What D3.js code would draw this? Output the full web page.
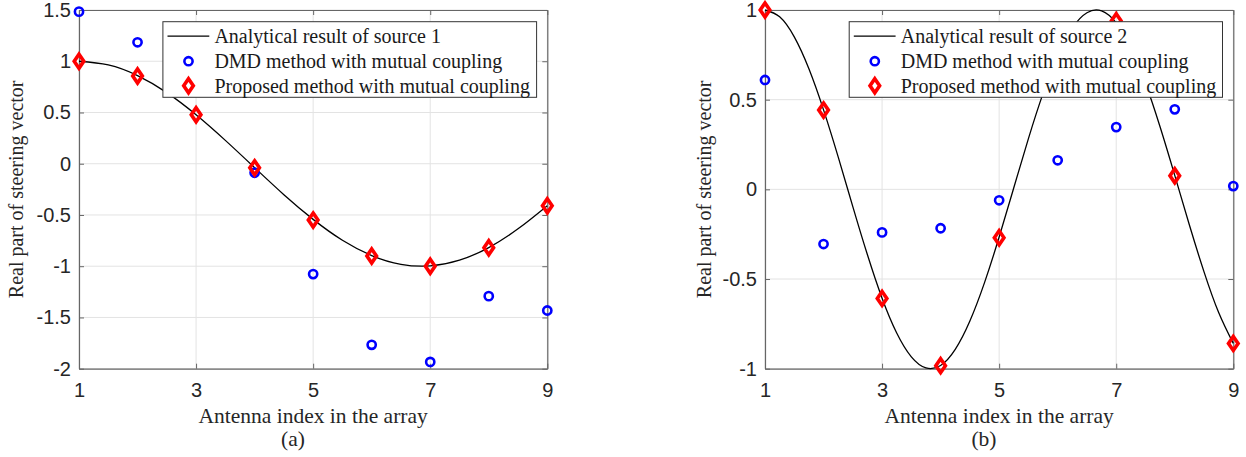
<!DOCTYPE html>
<html>
<head>
<meta charset="utf-8">
<script src="https://cdn.jsdelivr.net/npm/d3@7"></script>
<style>
  body { margin: 0; background: #fff; }
  .tick-label { font-family: "Liberation Sans", Arial, sans-serif; font-size: 20px; fill: #262626; }
  .label { font-family: "Liberation Serif", "Times New Roman", serif; font-size: 20px; fill: #262626; }
  .xlabel { font-family: "Liberation Serif", "Times New Roman", serif; font-size: 21.5px; fill: #262626; }
  .legend-text { font-family: "Liberation Serif", "Times New Roman", serif; font-size: 20px; fill: #1a1a1a; }
</style>
</head>
<body>
<div class="svg-container"></div>
<script>
var width = 1246;
var height = 457;

// antenna indices (x) shared by both panels
var antennaIdx = [1, 2, 3, 4, 5, 6, 7, 8, 9];
var xTicks = [1, 3, 5, 7, 9];

// panel (a) - source 1
var yTicksA = [-2, -1.5, -1, -0.5, 0, 0.5, 1, 1.5];
var curveXA = [1, 1.5, 2, 2.5, 3, 3.5, 4, 4.5, 5, 5.5, 6, 6.5, 7, 7.5, 8, 8.5, 9];
var curveYA = [1, 0.964, 0.860, 0.694, 0.478, 0.228, -0.038, -0.302, -0.543, -0.747, -0.896, -0.982, -0.997, -0.941, -0.818, -0.635, -0.409];
var dmdA = [1.484, 1.185, 0.95, -0.088, -1.077, -1.767, -1.934, -1.292, -1.432];
var proposedA = [1.0, 0.856, 0.478, -0.04, -0.55, -0.90, -1.0, -0.82, -0.41];
var legendA = ["Analytical result of source 1", "DMD method with mutual coupling", "Proposed method with mutual coupling"];

// panel (b) - source 2
var yTicksB = [-1, -0.5, 0, 0.5, 1];
var curveXB = [1, 1.25, 1.5, 1.75, 2, 2.25, 2.5, 2.75, 3, 3.25, 3.5, 3.75, 4, 4.25, 4.5, 4.75, 5,
               5.25, 5.5, 5.75, 6, 6.25, 6.5, 6.75, 7, 7.25, 7.5, 7.75, 8, 8.25, 8.5, 8.75, 9];
var curveYB = [1, 0.962, 0.850, 0.672, 0.443, 0.181, -0.096, -0.365, -0.607, -0.801, -0.934, -0.996, -0.982,
               -0.892, -0.734, -0.520, -0.266, 0.009, 0.283, 0.535, 0.746, 0.900, 0.985, 0.995, 0.928,
               0.790, 0.592, 0.348, 0.078, -0.199, -0.460, -0.687, -0.859];
var dmdB = [0.61, -0.305, -0.24, -0.217, -0.061, 0.162, 0.347, 0.446, 0.018];
var proposedB = [1.0, 0.442, -0.608, -0.983, -0.27, 0.746, 0.94, 0.076, -0.859];
var legendB = ["Analytical result of source 2", "DMD method with mutual coupling", "Proposed method with mutual coupling"];

var svg = d3.select(".svg-container")
              .append("svg")
              .attr("width", width)
              .attr("height", height);

var panelA = {
  left: 79, right: 547.3, top: 10, bottom: 368.7,
  yDomain: [-2, 1.5], yTicks: yTicksA,
  curveX: curveXA, curveY: curveYA, dmd: dmdA, proposed: proposedA,
  legendText: legendA, legendBox: [162.9, 21.7, 373.7, 75.6],
  yLabelX: 23, caption: "(a)", captionX: 293
};

var panelB = {
  left: 765, right: 1233.3, top: 10, bottom: 368.7,
  yDomain: [-1, 1], yTicks: yTicksB,
  curveX: curveXB, curveY: curveYB, dmd: dmdB, proposed: proposedB,
  legendText: legendB, legendBox: [849.2, 21.7, 373.3, 75.6],
  yLabelX: 711, caption: "(b)", captionX: 984
};

drawPanel(panelA);
drawPanel(panelB);

function drawPanel(p) {
  var g = svg.append("g");

  var x = d3.scaleLinear().domain([1, 9]).range([p.left, p.right]);
  var y = d3.scaleLinear().domain(p.yDomain).range([p.bottom, p.top]);

  // grid
  g.append("g").selectAll("line.gx")
    .data(xTicks).enter().append("line")
    .attr("x1", function(d) { return x(d); }).attr("x2", function(d) { return x(d); })
    .attr("y1", p.top).attr("y2", p.bottom)
    .attr("stroke", "#e3e3e3").attr("stroke-width", 1);
  g.append("g").selectAll("line.gy")
    .data(p.yTicks).enter().append("line")
    .attr("y1", function(d) { return y(d); }).attr("y2", function(d) { return y(d); })
    .attr("x1", p.left).attr("x2", p.right)
    .attr("stroke", "#e3e3e3").attr("stroke-width", 1);

  // axes (ticks inward, box on)
  var fmt = function(d) { return String(d); };
  g.append("g").attr("transform", "translate(0," + p.bottom + ")")
    .call(d3.axisBottom(x).tickValues(xTicks).tickSizeInner(-5).tickSizeOuter(0).tickPadding(14).tickFormat(fmt));
  g.append("g").attr("transform", "translate(0," + p.top + ")")
    .call(d3.axisTop(x).tickValues(xTicks).tickSizeInner(-5).tickSizeOuter(0).tickFormat(""));
  g.append("g").attr("transform", "translate(" + p.left + ",0)")
    .call(d3.axisLeft(y).tickValues(p.yTicks).tickSizeInner(-5).tickSizeOuter(0).tickPadding(8).tickFormat(fmt));
  g.append("g").attr("transform", "translate(" + p.right + ",0)")
    .call(d3.axisRight(y).tickValues(p.yTicks).tickSizeInner(-5).tickSizeOuter(0).tickFormat(""));

  g.selectAll(".domain").attr("stroke", "#666").attr("stroke-width", 1.2);
  g.selectAll(".tick line").attr("stroke", "#666");
  g.selectAll(".tick text").attr("class", "tick-label").attr("font-size", null).attr("font-family", null);

  // analytical curve
  var pts = p.curveX.map(function(d, i) { return [d, p.curveY[i]]; });
  var line = d3.line()
               .curve(d3.curveNatural)
               .x(function(d) { return x(d[0]); })
               .y(function(d) { return y(d[1]); });
  g.append("path")
    .datum(pts)
    .attr("fill", "none")
    .attr("stroke", "#000")
    .attr("stroke-width", 1.3)
    .attr("d", line);

  // DMD circles
  g.append("g").selectAll("circle")
    .data(p.dmd).enter().append("circle")
    .attr("cx", function(d, i) { return x(antennaIdx[i]); })
    .attr("cy", function(d) { return y(d); })
    .attr("r", 4.1)
    .attr("fill", "none")
    .attr("stroke", "#0000ff")
    .attr("stroke-width", 2.6);

  // proposed diamonds
  g.append("g").selectAll("path.dia")
    .data(p.proposed).enter().append("path")
    .attr("d", function(d, i) { return diamond(x(antennaIdx[i]), y(d)); })
    .attr("fill", "none")
    .attr("stroke", "#ff0000")
    .attr("stroke-width", 3.6);

  // legend
  var b = p.legendBox;
  var lg = g.append("g");
  lg.append("rect")
    .attr("x", b[0]).attr("y", b[1]).attr("width", b[2]).attr("height", b[3])
    .attr("fill", "#fff").attr("stroke", "#333").attr("stroke-width", 1);
  var rowY = [b[1] + 14.5, b[1] + 39.5, b[1] + 64];
  lg.append("line")
    .attr("x1", b[0] + 4.6).attr("x2", b[0] + 46.4)
    .attr("y1", rowY[0]).attr("y2", rowY[0])
    .attr("stroke", "#000").attr("stroke-width", 1.3);
  lg.append("circle")
    .attr("cx", b[0] + 25.6).attr("cy", rowY[1]).attr("r", 4.1)
    .attr("fill", "none").attr("stroke", "#0000ff").attr("stroke-width", 2.6);
  lg.append("path")
    .attr("d", diamond(b[0] + 25.6, rowY[2]))
    .attr("fill", "none").attr("stroke", "#ff0000").attr("stroke-width", 3.6);
  lg.selectAll("text")
    .data(p.legendText).enter().append("text")
    .attr("class", "legend-text")
    .attr("x", b[0] + 51.5)
    .attr("y", function(d, i) { return rowY[i] + 7; })
    .text(function(d) { return d; });

  // axis labels
  g.append("text")
    .attr("class", "xlabel")
    .attr("x", (p.left + p.right) / 2)
    .attr("y", 423)
    .attr("text-anchor", "middle")
    .text("Antenna index in the array");
  g.append("text")
    .attr("class", "xlabel")
    .attr("x", p.captionX)
    .attr("y", 446)
    .attr("text-anchor", "middle")
    .text(p.caption);
  g.append("text")
    .attr("class", "label")
    .attr("transform", "rotate(-90)")
    .attr("x", -(p.top + p.bottom) / 2)
    .attr("y", p.yLabelX)
    .attr("text-anchor", "middle")
    .text("Real part of steering vector");
}

function diamond(cx, cy) {
  var hw = 4.8, hh = 7;
  return "M" + cx + "," + (cy - hh) + "L" + (cx + hw) + "," + cy +
         "L" + cx + "," + (cy + hh) + "L" + (cx - hw) + "," + cy + "Z";
}
</script>
</body>
</html>
